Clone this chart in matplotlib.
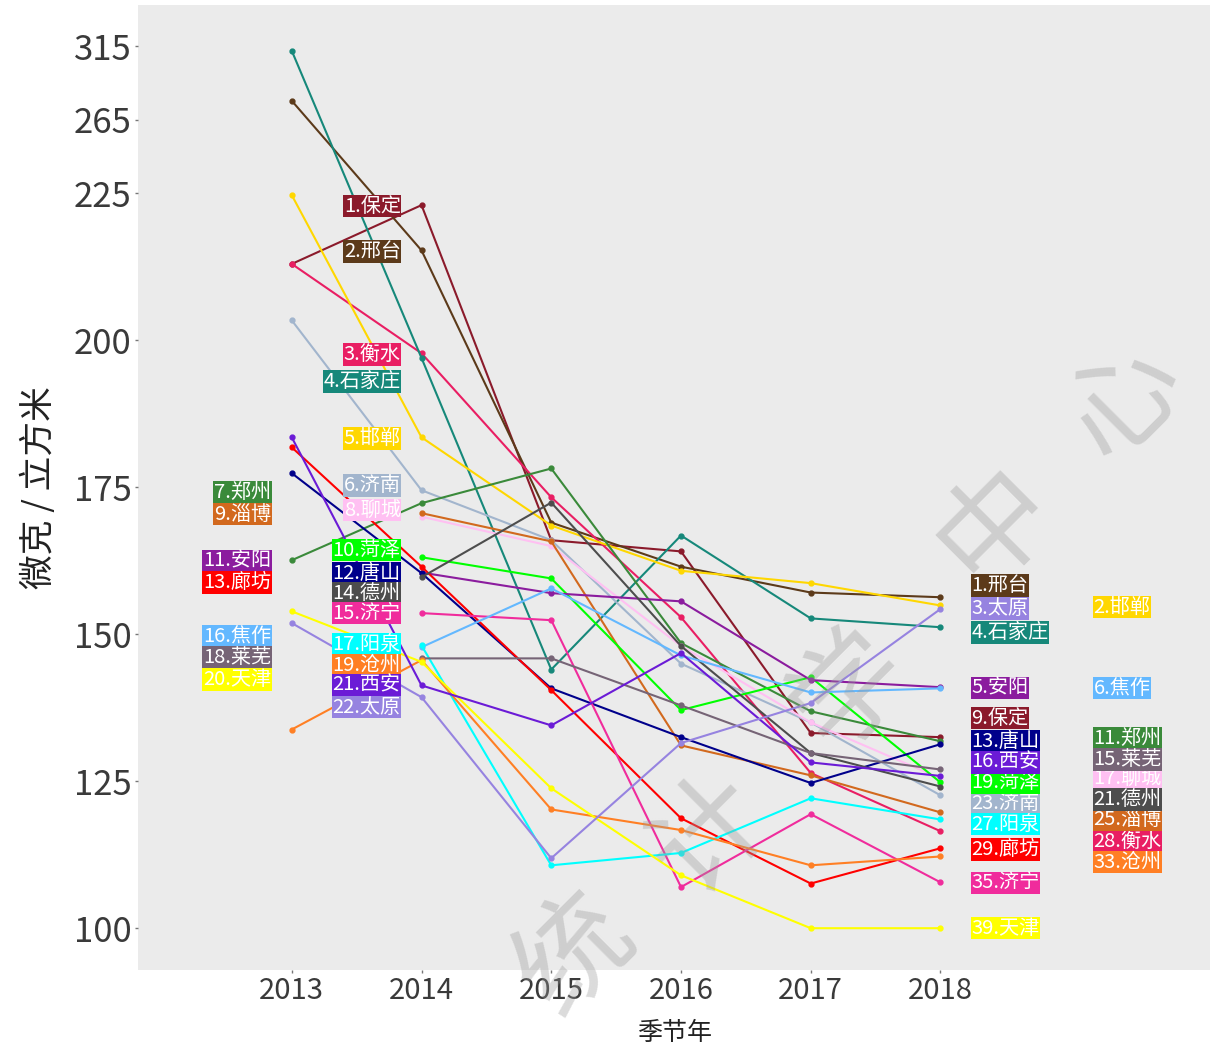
import numpy as np
import matplotlib
matplotlib.use('Agg')
import matplotlib.pyplot as plt

plt.rcParams['font.family'] = ['Noto Sans CJK SC', 'DejaVu Sans']

# data: PM2.5 season-year averages
years = [2013, 2014, 2015, 2016, 2017, 2018]
cities = ['保定', '邢台', '衡水', '石家庄', '邯郸', '济南', '郑州', '聊城', '淄博', '菏泽', '安阳',
          '唐山', '廊坊', '德州', '济宁', '焦作', '阳泉', '莱芜', '沧州', '天津', '西安', '太原']
colors = ['#8B1A2B', '#5C3A1A', '#E91E63', '#16887A', '#FFD700', '#A2B5CD', '#3A8A3A', '#FFC0F2',
          '#D2691E', '#00FF00', '#8B1C9E', '#00008B', '#FF0000', '#4D4D4D', '#F02C9C', '#63B8FF',
          '#00FFFF', '#766476', '#FF7F24', '#FFFF00', '#6B1BD6', '#9683E0']
nan = np.nan
pm = [[213.0, 223.0, 166.0, 164.1, 133.2, 132.5],
      [278.0, 215.3, 169.0, 161.5, 157.1, 156.3],
      [213.0, 197.8, 173.3, 152.9, 126.4, 116.5],
      [312.0, 197.0, 144.0, 166.8, 152.7, 151.2],
      [224.7, 183.5, 168.5, 160.8, 158.7, 154.9],
      [203.4, 174.5, 166.0, 145.0, 135.0, 122.6],
      [162.6, 172.3, 178.2, 148.5, 136.9, 131.8],
      [nan, 170.0, 165.0, 148.0, 135.0, 125.5],
      [nan, 170.6, 165.8, 131.1, 126.0, 119.7],
      [nan, 163.1, 159.5, 137.1, 142.7, 124.8],
      [nan, 160.5, 157.0, 155.6, 142.2, 141.0],
      [177.4, 160.4, 140.8, 132.5, 124.7, 131.3],
      [181.8, 161.5, 140.5, 118.7, 107.6, 113.6],
      [nan, 159.7, 172.4, 148.0, 129.8, 124.1],
      [nan, 153.6, 152.4, 107.0, 119.4, 107.8],
      [nan, 147.8, 157.8, 146.4, 140.1, 140.8],
      [nan, 148.1, 110.7, 112.8, 122.1, 118.5],
      [nan, 145.9, 145.9, 137.9, 129.8, 127.0],
      [133.8, 145.6, 120.2, 116.7, 110.7, 112.2],
      [153.9, 145.3, 123.8, 109.0, 100.0, 100.0],
      [183.5, 141.3, 134.5, 146.8, 128.2, 125.9],
      [151.9, 139.3, 111.9, 131.5, 138.3, 154.3]]

# rank labels (2013 on the left, 2018 on the right)
rank13 = [1, 2, 3, 4, 5, 6, 7, 8, 9, 10, 11, 12, 13, 14, 15, 16, 17, 18, 19, 20, 21, 22]
lab13_y = [222.8, 215.1, 197.6, 193.0, 183.3, 175.3, 174.1, 171.1, 170.4, 164.3, 162.4,
           160.4, 158.8, 157.0, 153.6, 149.7, 148.3, 146.1, 144.7, 142.3, 141.3, 137.6]
lab13_col = [2, 2, 2, 2, 2, 2, 1, 2, 1, 2, 1, 2, 1, 2, 2, 1, 2, 1, 2, 1, 2, 2]
rank18 = [9, 1, 28, 4, 2, 23, 11, 17, 25, 19, 5, 13, 29, 21, 35, 6, 27, 15, 33, 39, 16, 3]
lab18_y = [135.7, 158.3, 114.8, 150.3, 154.6, 121.3, 132.3, 125.5, 118.5, 124.8, 140.8,
           131.8, 113.4, 121.9, 107.7, 140.8, 117.7, 128.7, 111.2, 100.0, 128.2, 154.4]
lab18_col = [1, 1, 2, 1, 2, 1, 2, 2, 2, 1, 1, 1, 1, 2, 1, 2, 1, 2, 2, 1, 1, 1]

yticks = [100, 125, 150, 175, 200, 225, 265, 315]

# squeezed scale above 225
knots_v = [0, 225, 265, 315, 2000]
knots_t = [0, 225, 237.5, 250, 250 + 1685 * 0.25]
def fwd(v):
    return np.interp(v, knots_v, knots_t)
def inv(t):
    return np.interp(t, knots_t, knots_v)

fig = plt.figure(figsize=(12.13, 10.52), dpi=100)
ax = fig.add_axes([0.1138, 0.078, 0.884, 0.917])
ax.set_facecolor('#EBEBEB')
ax.set_yscale('function', functions=(fwd, inv))

for i, c in enumerate(cities):
    ax.plot(years, pm[i], color=colors[i], lw=1.5, marker='o', ms=3.5, zorder=3)

lab_kw = dict(color='white', fontsize=14.5, va='center', zorder=5)
for i, c in enumerate(cities):
    x = 2013.84 if lab13_col[i] == 2 else 2012.84
    ax.text(x, lab13_y[i], '%d.%s' % (rank13[i], c), ha='right',
            bbox=dict(boxstyle='square,pad=0.03', fc=colors[i], ec='none'), **lab_kw)
    x = 2018.24 if lab18_col[i] == 1 else 2019.18
    ax.text(x, lab18_y[i], '%d.%s' % (rank18[i], c), ha='left',
            bbox=dict(boxstyle='square,pad=0.03', fc=colors[i], ec='none'), **lab_kw)

ax.set_xlim(2011.815, 2020.08)
ax.set_ylim(92.9, 343)
ax.set_yticks(yticks)
ax.set_yticklabels([str(t) for t in yticks], fontsize=25, color='#3A3A3A')
ax.set_xticks(years)
ax.set_xticklabels([str(y) for y in years], fontsize=21, color='#3A3A3A')
ax.minorticks_off()
ax.tick_params(length=2.5, color='#777777', width=1, pad=2)
for s in ax.spines.values():
    s.set_visible(False)
ax.set_ylabel('微克 / 立方米', fontsize=25, color='#222222', labelpad=12)
ax.set_xlabel('季节年', fontsize=18, color='#222222', labelpad=10)

# watermark
for ch, (fx, fy) in zip('统计学中心', [(575, 955), (710, 835), (850, 690), (995, 525), (1125, 400)]):
    fig.text(fx / 1213, 1 - fy / 1052, ch, fontsize=82, rotation=45, color='#999999',
             alpha=0.35, ha='center', va='center', zorder=10)

fig.savefig('out.png', dpi=100)
